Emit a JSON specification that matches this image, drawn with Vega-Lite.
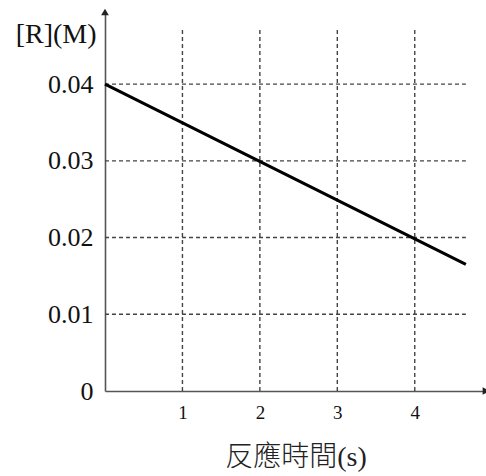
{
  "$schema": "https://vega.github.io/schema/vega-lite/v6.json",
  "width": 381,
  "height": 379,
  "autosize": "none",
  "padding": {"left": 105, "top": 12, "right": 0, "bottom": 85},
  "background": "white",
  "config": {
    "view": {"stroke": null},
    "axis": {
      "grid": false,
      "ticks": false,
      "domainColor": "#555555",
      "domainWidth": 1.6,
      "labelFont": "Liberation Serif",
      "labelColor": "#111111",
      "titleFont": "Liberation Serif, Noto Sans CJK TC",
      "titleColor": "#111111",
      "titleFontWeight": "normal"
    }
  },
  "datasets": {
    "vgrid": [{"t": 1, "c": 0, "c2": 0.0472}, {"t": 2, "c": 0, "c2": 0.0472}, {"t": 3, "c": 0, "c2": 0.0472}, {"t": 4, "c": 0, "c2": 0.0472}],
    "hgrid": [{"c": 0.01, "t": 0, "t2": 4.66}, {"c": 0.02, "t": 0, "t2": 4.66}, {"c": 0.03, "t": 0, "t2": 4.66}, {"c": 0.04, "t": 0, "t2": 4.66}],
    "line": [{"t": 0, "c": 0.04}, {"t": 4.66, "c": 0.0165}],
    "arrows": [{"t": 0, "c": 0.0494, "s": "triangle-up"}, {"t": 4.92, "c": 0, "s": "triangle-right"}]
  },
  "encoding": {
    "x": {"field": "t", "type": "quantitative", "scale": {"domain": [0, 4.92], "nice": false, "zero": false},
      "axis": {"values": [1, 2, 3, 4], "labelFontSize": 19, "labelPadding": 12, "title": "反應時間(s)", "titleFontSize": 28, "titleFontWeight": 300, "titleColor": "#222222", "titlePadding": 21}},
    "y": {"field": "c", "type": "quantitative", "scale": {"domain": [0, 0.0494], "nice": false, "zero": false},
      "axis": {"values": [0, 0.01, 0.02, 0.03, 0.04], "labelFontSize": 26, "labelPadding": 12, "labelExpr": "datum.value == 0 ? '0' : format(datum.value, '.2f')",
        "title": "[R](M)", "titleFontSize": 28, "titleAngle": 0, "titleAlign": "right", "titleBaseline": "alphabetic", "titleX": -9, "titleY": 30}}
  },
  "layer": [
    {
      "data": {"name": "vgrid"},
      "mark": {"type": "rule", "color": "#444444", "strokeWidth": 1.4, "strokeDash": [4, 3]},
      "encoding": {
        "y2": {"field": "c2"}
      }
    },
    {
      "data": {"name": "hgrid"},
      "mark": {"type": "rule", "color": "#444444", "strokeWidth": 1.4, "strokeDash": [4, 3]},
      "encoding": {
        "x2": {"field": "t2"}
      }
    },
    {
      "data": {"name": "line"},
      "mark": {"type": "line", "color": "#000000", "strokeWidth": 3},
      "encoding": {}
    },
    {
      "data": {"name": "arrows"},
      "mark": {"type": "point", "filled": true, "color": "#222222", "size": 60, "opacity": 1},
      "encoding": {
        "shape": {"field": "s", "type": "nominal", "scale": {"domain": ["triangle-up", "triangle-right"], "range": ["triangle-up", "triangle-right"]}, "legend": null}
      }
    }
  ]
}
